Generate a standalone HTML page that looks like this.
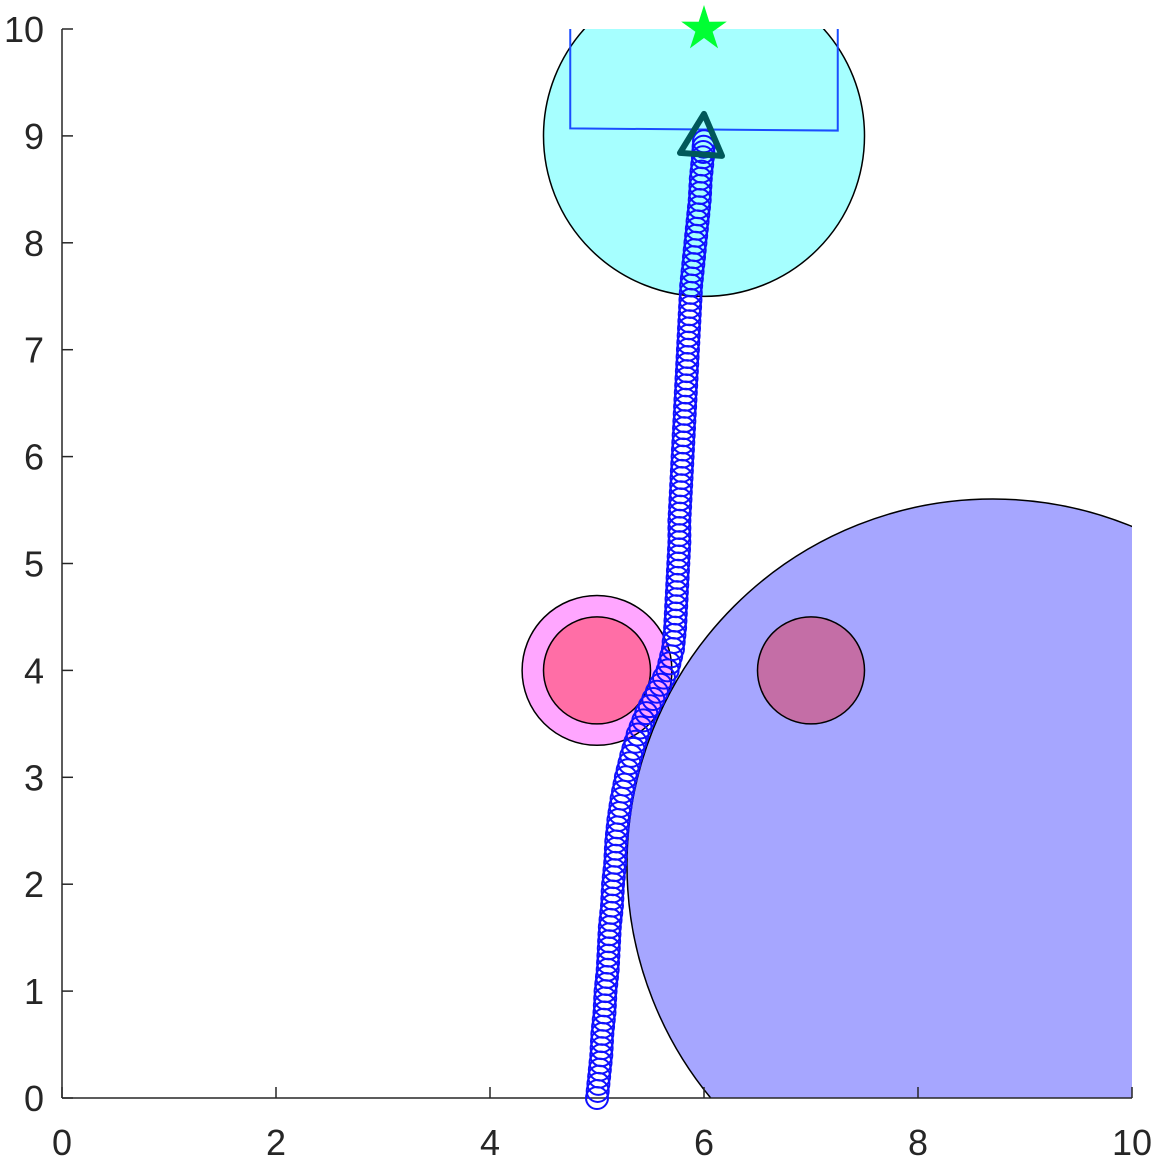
<!DOCTYPE html>
<html><head><meta charset="utf-8"><style>html,body{margin:0;background:#fff;overflow:hidden}svg{display:block}text{font-family:"Liberation Sans",sans-serif;font-size:36px;fill:#262626}</style></head>
<body>
<svg id="chart" width="1157" height="1161" xmlns="http://www.w3.org/2000/svg">
<defs><clipPath id="ax"><rect x="62" y="29" width="1070" height="1069"/></clipPath></defs>
<g id="plot" clip-path="url(#ax)"></g>
<g id="axes"></g>
<g id="marks"></g>
</svg>
<script>
const xTicks=[0,2,4,6,8,10];
const yTicks=[0,1,2,3,4,5,6,7,8,9,10];
const goalCircle={cx:6,cy:9,r:1.5};
const bigObstacle={cx:8.7,cy:2.18,r:3.42};
const pinkOuter={cx:5,cy:4,r:0.7};
const pinkInner={cx:5,cy:4,r:0.5};
const purpleObs={cx:7,cy:4,r:0.5};
const goalRectX=[4.75,7.25];
const goalRectY=[9.07,9.05,10];
const pathX=[5.0,5.02,5.04,5.05,5.07,5.08,5.10,5.11,5.12,5.14,5.15,5.17,5.18,5.20,5.23,5.27,5.32,5.38,5.46,5.56,5.66,5.71,5.73,5.74,5.75,5.76,5.77,5.77,5.78,5.79,5.80,5.81,5.82,5.83,5.84,5.85,5.86,5.87,5.88,5.90,5.92,5.94,5.96,5.97,5.99,6.0];
const pathY=[0,0.2,0.4,0.6,0.8,1.0,1.2,1.4,1.6,1.8,2.0,2.2,2.4,2.6,2.8,3.0,3.2,3.4,3.6,3.8,4.0,4.2,4.4,4.6,4.8,5.0,5.2,5.4,5.6,5.8,6.0,6.2,6.4,6.6,6.8,7.0,7.2,7.4,7.6,7.8,8.0,8.2,8.4,8.6,8.8,8.95];
const star={x:6,y:10};
const robot={x:6,y:9};

const X=v=>62+v*107, Y=v=>1098-v*106.9, S=v=>v*107;
const NS="http://www.w3.org/2000/svg";
const plot=document.getElementById('plot'), axes=document.getElementById('axes'), marks=document.getElementById('marks');
function mk(p,tag,attrs){const e=document.createElementNS(NS,tag);for(const k in attrs)e.setAttribute(k,attrs[k]);p.appendChild(e);return e;}

let e;
e=mk(plot,'circle',{cx:X(bigObstacle.cx),cy:Y(bigObstacle.cy),r:S(bigObstacle.r),fill:'#a6a6ff',stroke:'#000','stroke-width':1.5});


e=mk(plot,'circle',{cx:X(goalCircle.cx),cy:Y(goalCircle.cy),r:S(goalCircle.r),fill:'#a6ffff',stroke:'#000','stroke-width':1.5});


e=mk(plot,'circle',{cx:X(pinkOuter.cx),cy:Y(pinkOuter.cy),r:S(pinkOuter.r),fill:'#ffa6ff',stroke:'#000','stroke-width':1.5});


e=mk(plot,'circle',{cx:X(pinkInner.cx),cy:Y(pinkInner.cy),r:S(pinkInner.r),fill:'#ff6ea6',stroke:'#000','stroke-width':1.5});


e=mk(plot,'circle',{cx:X(purpleObs.cx),cy:Y(purpleObs.cy),r:S(purpleObs.r),fill:'#c46ea6',stroke:'#000','stroke-width':1.5});


e=mk(plot,'polyline',{points:`${X(goalRectX[0])},${Y(goalRectY[2])} ${X(goalRectX[0])},${Y(goalRectY[0])} ${X(goalRectX[1])},${Y(goalRectY[1])} ${X(goalRectX[1])},${Y(goalRectY[2])}`,fill:'none',stroke:'#1a4dff','stroke-width':2});



e=mk(axes,'line',{x1:62,y1:29,x2:62,y2:1098,stroke:'#262626','stroke-width':1.5});


e=mk(axes,'line',{x1:62,y1:1098,x2:1132,y2:1098,stroke:'#262626','stroke-width':1.5});


xTicks.forEach(t=>{
  mk(axes,'line',{x1:X(t),y1:1098,x2:X(t),y2:1087,stroke:'#262626','stroke-width':1.5});
  const tx=mk(axes,'text',{x:X(t),y:1155,'text-anchor':'middle'});tx.textContent=t;
  
  
});
yTicks.forEach(t=>{
  mk(axes,'line',{x1:62,y1:Y(t),x2:73,y2:Y(t),stroke:'#262626','stroke-width':1.5});
  const tx=mk(axes,'text',{x:44,y:Y(t)+13,'text-anchor':'end'});tx.textContent=t;
  
  
});

for(let i=0;i<pathX.length;i++){
  const c=mk(marks,'circle',{cx:X(pathX[i]),cy:Y(pathY[i]),r:11,fill:'none',stroke:'#1010ff','stroke-width':2});
  
  
  if(i<pathX.length-1){
    for(let f of [0.33,0.66]){
      const c2=mk(marks,'circle',{cx:X(pathX[i])+(X(pathX[i+1])-X(pathX[i]))*f,cy:Y(pathY[i])+(Y(pathY[i+1])-Y(pathY[i]))*f,r:11,fill:'none',stroke:'#1010ff','stroke-width':2});
      
      
    }
  }
}
const rx=X(robot.x), ry=Y(robot.y);
e=mk(marks,'polygon',{points:`${rx},${ry-22} ${rx-24},${ry+17} ${rx+18},${ry+20}`,fill:'none',stroke:'#00585a','stroke-width':6,'stroke-linejoin':'round'});


const sx=X(star.x), sy=Y(star.y);let sp=[];
for(let k=0;k<10;k++){const a=-Math.PI/2+k*Math.PI/5, r=k%2?9:24;sp.push((sx+r*Math.cos(a)).toFixed(1)+','+(sy+r*Math.sin(a)).toFixed(1));}
e=mk(marks,'polygon',{points:sp.join(' '),fill:'#00ff33'});


</script>
</body></html>
